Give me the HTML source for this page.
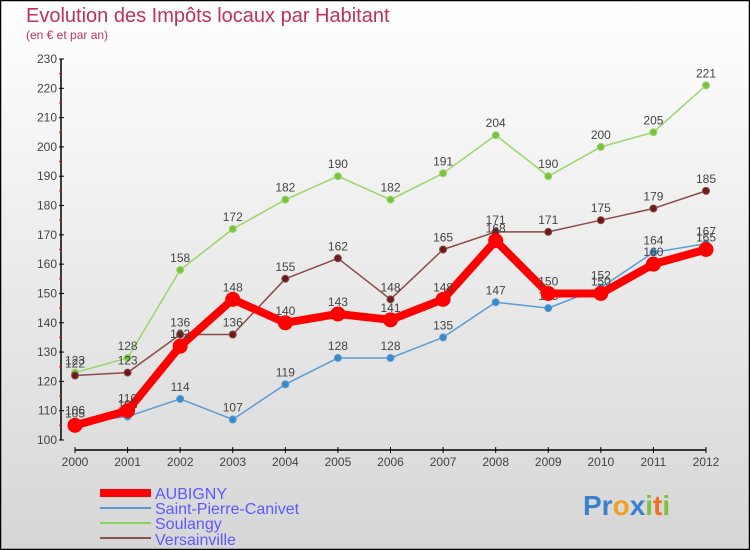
<!DOCTYPE html>
<html><head><meta charset="utf-8"><style>
body{margin:0}
#c{position:relative;width:750px;height:550px;overflow:hidden;font-family:"Liberation Sans",sans-serif}
</style></head><body>
<div id="c">
<svg width="750" height="550">
<defs><linearGradient id="bg" x1="0" y1="0" x2="0" y2="1"><stop offset="0" stop-color="#ffffff"/><stop offset="1" stop-color="#d6d6d6"/></linearGradient></defs>
<rect x="0.5" y="0.5" width="749" height="549" fill="url(#bg)" stroke="#000" stroke-width="1.5"/>
<text x="26" y="22" font-size="20" fill="#c0305a">Evolution des Impôts locaux par Habitant</text>
<text x="26" y="39" font-size="12" fill="#c0305a">(en € et par an)</text>
<g id="axes"></g><g id="series"></g>
<g>
<rect x="100" y="489" width="51" height="8" fill="#ff0000"/>
<text x="155" y="499" font-size="16" fill="#5a5aff">AUBIGNY</text>
<line x1="100" y1="508" x2="151" y2="508" stroke="#5b9bd5" stroke-width="2"/>
<text x="155" y="514" font-size="16" fill="#5a5aff">Saint-Pierre-Canivet</text>
<line x1="100" y1="523" x2="151" y2="523" stroke="#8ed060" stroke-width="2"/>
<text x="155" y="529" font-size="16" fill="#5a5aff">Soulangy</text>
<line x1="100" y1="538" x2="151" y2="538" stroke="#8b5050" stroke-width="2"/>
<text x="155" y="545" font-size="16" fill="#5a5aff">Versainville</text>
</g>
<g><text x="583" y="515" font-size="28" font-weight="bold"><tspan fill="#3a7fd0">Pr</tspan><tspan fill="#f0a020">o</tspan><tspan fill="#3a7fd0">x</tspan><tspan fill="#80c040">i</tspan><tspan fill="#f07020">t</tspan><tspan fill="#80c040">i</tspan></text></g>
</svg></div>
<script>
const years=[2000,2001,2002,2003,2004,2005,2006,2007,2008,2009,2010,2011,2012];
const aubigny=[105,110,132,148,140,143,141,148,168,150,150,160,165];
const saintPierre=[106,108,114,107,119,128,128,135,147,145,152,164,167];
const soulangy=[123,128,158,172,182,190,182,191,204,190,200,205,221];
const versainville=[122,123,136,136,155,162,148,165,171,171,175,179,185];
const yTicks=[100,110,120,130,140,150,160,170,180,190,200,210,220,230];
const NS="http://www.w3.org/2000/svg";
function xs(i){return 75+i*(706-75)/(years.length-1);}
function ys(v){return 440-(v-100)*(440-59)/130;}
function mk(t,a,p){const e=document.createElementNS(NS,t);for(const k in a)e.setAttribute(k,a[k]);p.appendChild(e);return e;}
const ax=document.getElementById('axes');
const yl=mk('line',{x1:61,y1:ys(230),x2:61,y2:ys(100),stroke:'#000','stroke-width':1.5},ax);


const xl=mk('line',{x1:75,y1:450,x2:706,y2:450,stroke:'#000','stroke-width':1.5},ax);


yTicks.forEach((v,i)=>{
 mk('line',{x1:59,y1:ys(v),x2:64,y2:ys(v),stroke:'#000'},ax);
 if(i<yTicks.length-1) mk('line',{x1:59,y1:ys(v+5),x2:62,y2:ys(v+5),stroke:'#f00'},ax);
 const t=mk('text',{x:57,y:ys(v)+4,'font-size':12,fill:'#444','text-anchor':'end'},ax);
 t.textContent=v;
 
 
});
years.forEach((y,i)=>{
 mk('line',{x1:xs(i),y1:447,x2:xs(i),y2:453,stroke:'#000'},ax);
 const t=mk('text',{x:xs(i),y:466,'font-size':12,fill:'#444','text-anchor':'middle'},ax);
 t.textContent=y;
 
 
});
const sg=document.getElementById('series');
function draw(vals,name,color,w,r,dot){
 const g=mk('g',{},sg);
 
 
 const p=mk('polyline',{points:vals.map((v,i)=>xs(i)+','+ys(v)).join(' '),fill:'none',stroke:color,'stroke-width':w,'stroke-linejoin':'round'},g);
 
 
 vals.forEach((v,i)=>{
  const c=mk('circle',{cx:xs(i),cy:ys(v),r:r,fill:dot,stroke:color,'stroke-width':1},g);
  
  
  const t=mk('text',{x:xs(i),y:ys(v)-8,'font-size':12,fill:'#444','text-anchor':'middle'},g);
  t.textContent=v;
  
  
 });
}
draw(soulangy,'soulangy','#9ad56a',1.5,3.5,'#7cc040');
draw(versainville,'versainville','#8b4a4a',1.5,3.5,'#6a1a1a');
draw(saintPierre,'saint-pierre','#5b9bd5',1.5,3.5,'#3a8ac8');
draw(aubigny,'aubigny','#ff0000',8,7,'#ff0000');
</script>
</body></html>
